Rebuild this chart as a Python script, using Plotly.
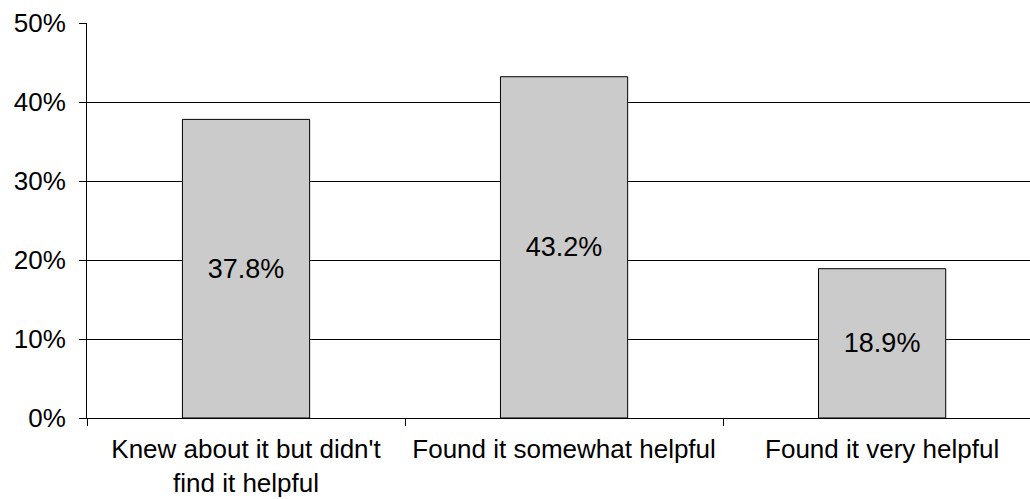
import plotly.graph_objects as go

categories = ["Knew about it but didn't<br>find it helpful",
              "Found it somewhat helpful",
              "Found it very helpful"]
percentages = [37.8, 43.2, 18.9]
y_ticks = [0, 10, 20, 30, 40, 50]
y_tick_labels = ["0%", "10%", "20%", "30%", "40%", "50%"]

font_family = "Liberation Sans, Arial, sans-serif"

fig = go.Figure(go.Bar(
    x=categories,
    y=percentages,
    width=0.4,
    marker=dict(color="#cbcbcb", line=dict(color="#000000", width=1)),
    text=[f"{v:.1f}%" for v in percentages],
    textposition="inside",
    insidetextanchor="middle",
    textangle=0,
    textfont=dict(family=font_family, size=27, color="#000000"),
    hoverinfo="skip",
))

fig.update_layout(
    width=1030, height=499,
    margin=dict(l=87, r=0, t=23, b=81),
    paper_bgcolor="white", plot_bgcolor="white",
    showlegend=False,
    font=dict(family=font_family, size=26, color="#000000"),
    bargap=0.6,
)
fig.update_xaxes(
    range=[-0.5, 2.465],
    showline=True, linecolor="#000000", linewidth=1,
    ticks="outside", tickson="boundaries", ticklen=7, tickcolor="#000000",
    showgrid=False,
    tickfont=dict(size=26),
    ticklabelstandoff=8,
    automargin=False,
)
fig.update_yaxes(
    range=[0, 50],
    tickvals=y_ticks, ticktext=y_tick_labels,
    showline=True, linecolor="#000000", linewidth=1,
    ticks="outside", ticklen=7, tickcolor="#000000",
    showgrid=True, gridcolor="#000000", gridwidth=1,
    zeroline=False,
    tickfont=dict(size=26),
    ticklabelstandoff=8,
    automargin=False,
)

fig.write_html("out.html")
